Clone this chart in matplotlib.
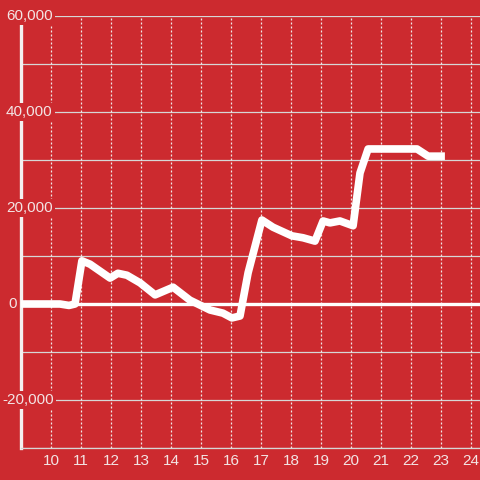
import matplotlib
matplotlib.use("Agg")
import matplotlib.pyplot as plt
import matplotlib.transforms as mtransforms

# values
x_vals = [9.0, 10.3, 10.6, 10.8, 11.03, 11.3, 11.97, 12.23, 12.53, 12.97,
          13.47, 14.07, 14.63, 15.3, 15.73, 16.03, 16.3, 16.57, 17.03, 17.4,
          18.03, 18.4, 18.8, 19.07, 19.3, 19.63, 20.07, 20.3, 20.57, 22.2,
          22.57, 23.13]
y_vals = [0, 0, -300, 0, 9000, 8300, 5400, 6400, 6000, 4400,
          1900, 3500, 800, -1250, -1900, -2900, -2500, 6500, 17500, 16000,
          14200, 13800, 13100, 17300, 16900, 17300, 16300, 27300, 32300, 32300,
          30800, 30800]
x_ticks = list(range(10, 25))
y_ticks = [-20000, 0, 20000, 40000, 60000]
y_grid = list(range(-30000, 60001, 10000))

BG = "#cc2a2f"
TXT = "#f3e4e4"
GRID = "#d6d6d6"

plt.rcParams["font.family"] = ["Liberation Sans", "DejaVu Sans"]

fig = plt.figure(figsize=(4.8, 4.8), dpi=100)
fig.patch.set_facecolor(BG)
ax = fig.add_axes([21 / 480, 32 / 480, 459 / 480, 432 / 480])
ax.set_facecolor(BG)
ax.set_xlim(9, 9 + 459 / 30)
ax.set_ylim(-30000, 60000)

# grid
for yv in y_grid:
    ax.axhline(yv, color=GRID, lw=0.9, zorder=1)
for xv in x_ticks:
    ax.axvline(xv, color="#f0e8e8", lw=0.9, ls=(0, (1.6, 1.6)), zorder=1)

ax.axhline(0, color="white", lw=2.4, zorder=2)

ax.plot(x_vals, y_vals, color="white", lw=5.5, solid_joinstyle="round",
        solid_capstyle="butt", zorder=3)

for s in ["top", "right"]:
    ax.spines[s].set_visible(False)
ax.spines["bottom"].set_color(GRID)
ax.spines["bottom"].set_linewidth(0.9)
ax.spines["left"].set_color("#f4f0f0")
ax.spines["left"].set_linewidth(2.4)
ax.spines["left"].set_zorder(2)

ax.set_xticks(x_ticks)
ax.set_xticklabels([str(v) for v in x_ticks])
ax.tick_params(axis="x", length=0, pad=4.5, labelsize=11, labelcolor=TXT)
ax.set_yticks([])

# y labels sit over the spine with a red box
for yv in y_ticks:
    lab = f"{yv:,}"
    dx = -19 if yv < 0 else -15
    if yv == 0:
        dx = -13
    trans = mtransforms.offset_copy(
        ax.get_yaxis_transform(), fig=fig, x=dx, y=0, units="dots")
    ax.text(0, yv, lab, transform=trans, ha="left", va="center",
            fontsize=11, color=TXT, zorder=4, clip_on=False,
            bbox=dict(boxstyle="square,pad=0.15", fc=BG, ec="none"))

fig.savefig("out.png", dpi=100, facecolor=BG)
